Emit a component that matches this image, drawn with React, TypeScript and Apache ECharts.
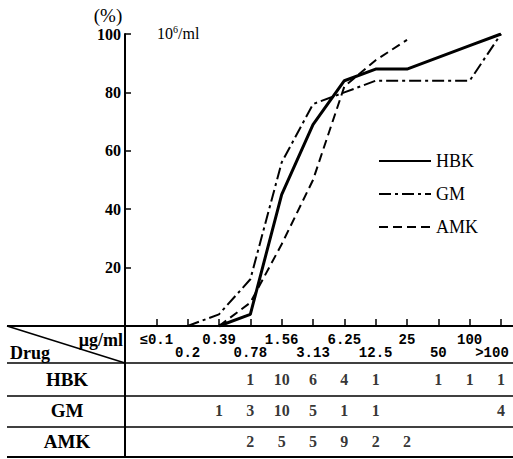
import React, { useEffect, useRef } from "react";
import * as echarts from "echarts";

// Concentrations (µg/ml) along the x axis
const concentrations = ["≤0.1", "0.2", "0.39", "0.78", "1.56", "3.13", "6.25", "12.5", "25", "50", "100", ">100"];
const drugs = ["HBK", "GM", "AMK"];

// Cumulative percentage curves
const hbkPct = [null, null, 0, 4, 45, 69, 84, 88, 88, 92, 96, 100];
const gmPct = [null, 0, 4, 16, 56, 76, 80, 84, 84, 84, 84, 100];
const amkPct = [null, null, 0, 8, 28, 50, 82, 91, 98, null, null, null];

// Counts in the table
const hbkCounts = [null, null, null, 1, 10, 6, 4, 1, null, 1, 1, 1];
const gmCounts = [null, null, 1, 3, 10, 5, 1, 1, null, null, null, 4];
const amkCounts = [null, null, null, 2, 5, 5, 9, 2, 2, null, null, null];

const yTicks = [0, 20, 40, 60, 80, 100];

const SERIF = "'Liberation Serif', 'Times New Roman', serif";
const MONO = "'Liberation Mono', 'Courier New', monospace";

export default function App() {
  const ref = useRef<HTMLDivElement>(null);
  useEffect(() => {
    if (!ref.current) return;
    const chart = echarts.init(ref.current, undefined, { renderer: "svg" });

    const toLine = (arr: (number | null)[]) =>
      arr.map((v, i) => [i + 1, v === null ? "-" : v]);

    const tableData: any[] = [];
    const countRows = [hbkCounts, gmCounts, amkCounts];
    countRows.forEach((row, r) => {
      row.forEach((c, i) => {
        if (c !== null) tableData.push([i + 1, drugs[r], c]);
      });
    });

    const black = "#000";
    const lineG = (x1: number, y1: number, x2: number, y2: number, w: number) => ({
      type: "line",
      shape: { x1, y1, x2, y2 },
      style: { stroke: black, lineWidth: w },
      silent: true,
    });

    const option: any = {
      animation: false,
      backgroundColor: "#fff",
      grid: [
        { left: 125, top: 34, width: 376, height: 292 },
        { left: 125, top: 364, width: 376, height: 93 },
      ],
      legend: {
        data: drugs,
        orient: "vertical",
        left: 373,
        top: 147,
        itemWidth: 52,
        itemHeight: 14,
        itemGap: 15,
        itemStyle: { opacity: 0 },
        textStyle: { fontFamily: SERIF, fontSize: 18, color: black },
      },
      xAxis: [
        {
          type: "value",
          gridIndex: 0,
          position: "bottom",
          min: 0,
          max: 12,
          interval: 1,
          axisLine: { show: true, lineStyle: { color: black, width: 2 } },
          axisTick: { show: true, inside: true, length: 7, lineStyle: { color: black, width: 1.5 } },
          splitLine: { show: false },
          axisLabel: {
            margin: 7,
            color: black,
            fontFamily: MONO,
            fontWeight: "bold",
            fontSize: 14,
            formatter: (v: number) => (v % 2 === 1 ? concentrations[v - 1] : ""),
          },
        },
        {
          type: "value",
          gridIndex: 0,
          position: "bottom",
          offset: 0,
          min: 0,
          max: 12,
          interval: 1,
          axisLine: { show: false },
          axisTick: { show: false },
          splitLine: { show: false },
          axisLabel: {
            margin: 20,
            color: black,
            fontFamily: MONO,
            fontWeight: "bold",
            fontSize: 14,
            formatter: (v: number) =>
              v % 2 === 0 && v > 0
                ? v === 12
                  ? "{r|" + concentrations[v - 1] + "}"
                  : concentrations[v - 1]
                : "",
            rich: {
              r: { fontFamily: MONO, fontWeight: "bold", fontSize: 14, color: black, padding: [0, 18, 0, 0] },
            },
          },
        },
        {
          type: "value",
          gridIndex: 1,
          min: 0,
          max: 12,
          interval: 1,
          show: false,
        },
      ],
      yAxis: [
        {
          type: "value",
          gridIndex: 0,
          min: yTicks[0],
          max: yTicks[yTicks.length - 1],
          interval: 20,
          axisLine: { show: true, lineStyle: { color: black, width: 2 } },
          axisTick: { show: true, inside: true, length: 6, lineStyle: { color: black, width: 1.5 } },
          splitLine: { show: false },
          axisLabel: {
            margin: 4,
            color: black,
            fontFamily: SERIF,
            fontWeight: "bold",
            fontSize: 16,
            formatter: (v: number) => (v === 0 ? "" : String(v)),
          },
        },
        {
          type: "category",
          gridIndex: 1,
          data: drugs,
          inverse: true,
          axisLine: { show: false },
          axisTick: { show: false },
          splitLine: { show: false },
          axisLabel: {
            margin: 58,
            align: "center",
            color: black,
            fontFamily: SERIF,
            fontWeight: "bold",
            fontSize: 19,
          },
        },
      ],
      series: [
        {
          name: "HBK",
          type: "line",
          xAxisIndex: 0,
          yAxisIndex: 0,
          symbol: "none",
          data: toLine(hbkPct),
          lineStyle: { color: black, width: 3 },
          itemStyle: { color: black },
        },
        {
          name: "GM",
          type: "line",
          xAxisIndex: 0,
          yAxisIndex: 0,
          symbol: "none",
          data: toLine(gmPct),
          lineStyle: { color: black, width: 2, type: [12, 4, 3, 4] },
          itemStyle: { color: black },
        },
        {
          name: "AMK",
          type: "line",
          xAxisIndex: 0,
          yAxisIndex: 0,
          symbol: "none",
          data: toLine(amkPct),
          lineStyle: { color: black, width: 2, type: [9, 5] },
          itemStyle: { color: black },
        },
        {
          name: "table",
          type: "scatter",
          xAxisIndex: 2,
          yAxisIndex: 1,
          symbolSize: 1,
          itemStyle: { color: "rgba(0,0,0,0)" },
          data: tableData,
          label: {
            show: true,
            position: "inside",
            color: black,
            fontFamily: SERIF,
            fontWeight: "bold",
            fontSize: 16,
            formatter: (p: any) => String(p.value[2]),
          },
          silent: true,
        },
      ],
      graphic: [
        lineG(7, 326, 513, 326, 2),
        lineG(7, 363, 513, 363, 1.5),
        lineG(7, 396, 513, 396, 1.5),
        lineG(7, 427, 513, 427, 1.5),
        lineG(7, 457, 513, 457, 2),
        lineG(125, 326, 125, 458, 2),
        lineG(7, 326, 125, 363, 1.5),
        {
          type: "text",
          x: 108,
          y: 15,
          style: { text: "(%)", fontFamily: SERIF, fontSize: 19, fill: black, align: "center", verticalAlign: "middle" },
        },
        {
          type: "text",
          x: 157,
          y: 33,
          style: {
            text: "10{s|6}/ml",
            fontFamily: SERIF,
            fontSize: 16,
            fill: black,
            align: "left",
            verticalAlign: "middle",
            rich: { s: { fontFamily: SERIF, fontSize: 10, verticalAlign: "top", padding: [0, 0, 8, 0] } },
          },
        },
        {
          type: "text",
          x: 123,
          y: 340,
          style: { text: "μg/ml", fontFamily: SERIF, fontWeight: "bold", fontSize: 18, fill: black, align: "right", verticalAlign: "middle" },
        },
        {
          type: "text",
          x: 10,
          y: 353,
          style: { text: "Drug", fontFamily: SERIF, fontWeight: "bold", fontSize: 18, fill: black, align: "left", verticalAlign: "middle" },
        },
      ],
    };
    chart.setOption(option);
    return () => chart.dispose();
  }, []);
  return (
    <div
      ref={ref}
      style={{ position: "fixed", left: 0, top: 0, width: 513, height: 459, background: "#fff" }}
    />
  );
}
